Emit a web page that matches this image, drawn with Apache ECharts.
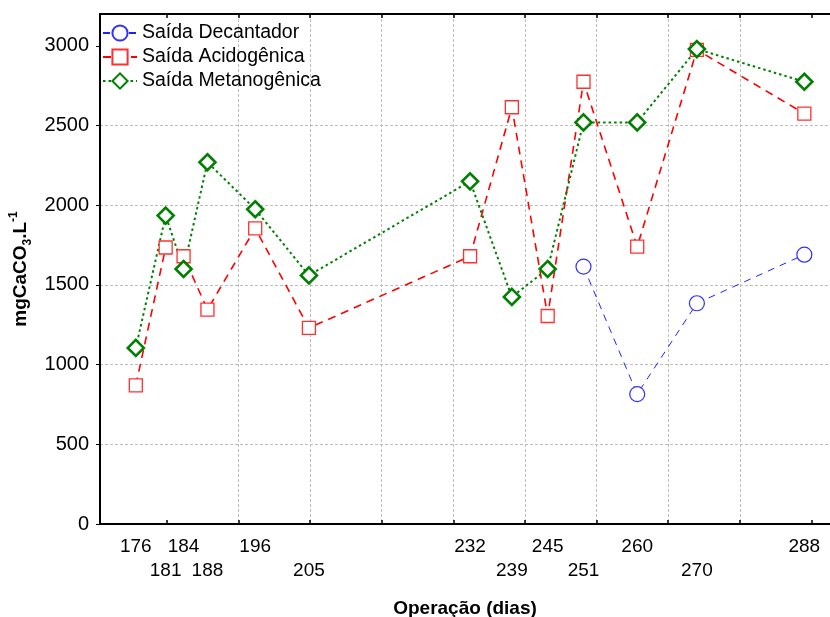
<!DOCTYPE html>
<html>
<head>
<meta charset="utf-8">
<title>Alcalinidade</title>
<script src="https://cdn.jsdelivr.net/npm/echarts@6/dist/echarts.min.js"></script>
<style>
    html, body { margin: 0; padding: 0; background: #fff; }
    #chart { width: 830px; height: 617px; }
</style>
</head>
<body>
<div id="chart"></div>
<script>
// dias de operacao
const dias = [176, 181, 184, 188, 196, 205, 232, 239, 245, 251, 260, 270, 288];

// mgCaCO3/L por ponto de coleta (null = sem medida)
const decantador = [null, null, null, null, null, null, null, null, null, 1615, 815, 1385, 1690];
const acidogenica = [870, 1735, 1680, 1345, 1855, 1230, 1680, 2615, 1305, 2775, 1740, 2975, 2575];
const metanogenica = [1105, 1935, 1600, 2270, 1975, 1560, 2150, 1425, 1600, 2520, 2520, 2980, 2775];

// rotulos do eixo x em duas linhas
const rotulosCima = [176, 184, 196, 232, 245, 260, 288];
const rotulosBaixo = [181, 188, 205, 239, 251, 270];

// ticks do eixo y
const ticksY = [0, 500, 1000, 1500, 2000, 2500, 3000];

// linhas verticais da grade (dias a partir do inicio da grade)
const gradeX = [12, 24, 36, 48, 60, 72, 84, 96, 108, 120];

const nomes = ['Saída Decantador', 'Saída Acidogênica', 'Saída Metanogênica'];

document.addEventListener("DOMContentLoaded", function () {

    let el = document.getElementById('chart');
    let chart = echarts.init(el, null, { renderer: 'canvas' });

    const fonte = 'Liberation Sans, Arial, sans-serif';
    const xMin = 170, xMax = 292.3;
    // grade das linhas verticais: comeca no dia 169.2, passo de 12 dias
    const gMin = 169.2;

    function pares(vals) {
        return dias.map((d, i) => [d, vals[i]]).filter(p => p[1] !== null);
    }

    let eixoX = {
        type: 'value', gridIndex: 0, min: xMin, max: xMax,
        splitLine: { show: false },
        axisTick: { show: false },
        axisLine: { show: false },
        axisLabel: { show: false }
    };

    let tickGrade = { show: true, inside: true, length: 4, customValues: gradeX, lineStyle: { color: '#000', width: 1.5 } };

    chart.setOption({
        animation: false,
        textStyle: { fontFamily: fonte },
        grid: [
            { left: 100, right: 0, top: 14, bottom: 93, containLabel: false, outerBoundsMode: 'none' },
            {
                left: 100 - (xMin - gMin) * 730 / (xMax - xMin), right: 0, top: 14, bottom: 93,
                containLabel: false, outerBoundsMode: 'none'
            }
        ],
        legend: {
            orient: 'vertical',
            left: 97,
            top: 18,
            itemWidth: 34,
            itemHeight: 19,
            itemGap: 4,
            data: nomes,
            textStyle: { fontSize: 19.5, color: '#000', fontFamily: fonte }
        },
        xAxis: [
            // eixo dos dados, linha de baixo + rotulos de cima
            Object.assign({}, eixoX, {
                position: 'bottom',
                axisLine: { show: true, lineStyle: { color: '#000', width: 2 } },
                axisLabel: {
                    show: true, customValues: rotulosCima, margin: 13,
                    fontSize: 19, color: '#000', fontFamily: fonte
                },
                name: 'Operação (dias)',
                nameLocation: 'middle',
                nameGap: 75,
                nameTextStyle: { fontSize: 19, fontWeight: 'bold', color: '#000', fontFamily: fonte }
            }),
            // segunda linha de rotulos
            Object.assign({}, eixoX, {
                position: 'bottom',
                axisLabel: {
                    show: true, customValues: rotulosBaixo, margin: 37,
                    fontSize: 19, color: '#000', fontFamily: fonte
                }
            }),
            // moldura de cima
            Object.assign({}, eixoX, {
                position: 'top',
                axisLine: { show: true, lineStyle: { color: '#000', width: 2 } }
            }),
            // grade vertical + ticks internos
            {
                type: 'value', gridIndex: 1, position: 'bottom',
                min: 0, max: xMax - gMin, interval: 12,
                axisLine: { show: false },
                axisLabel: { show: false },
                axisTick: tickGrade,
                splitLine: {
                    show: true, showMinLine: false, showMaxLine: false,
                    lineStyle: { color: '#bdbdbd', type: [3, 2], width: 1 }
                }
            },
            {
                type: 'value', gridIndex: 1, position: 'top',
                min: 0, max: xMax - gMin, interval: 12,
                axisLine: { show: false },
                axisLabel: { show: false },
                axisTick: tickGrade,
                splitLine: { show: false }
            }
        ],
        yAxis: [
            {
                type: 'value', gridIndex: 0,
                min: 0, max: 3200, interval: 500,
                axisLine: { show: true, lineStyle: { color: '#000', width: 2 } },
                axisTick: { show: true, length: 4, customValues: ticksY, lineStyle: { color: '#000' } },
                axisLabel: {
                    fontSize: 20, color: '#000', margin: 11, fontFamily: fonte,
                    customValues: ticksY,
                    formatter: v => String(v)
                },
                splitLine: {
                    show: true, showMaxLine: false, showMinLine: false,
                    lineStyle: { color: '#bdbdbd', type: [3, 2], width: 1 }
                },
                name: '{a|mgCaCO}{sub|3}{a|.L}{sup|-1}',
                nameLocation: 'middle',
                nameGap: 62,
                nameTextStyle: {
                    color: '#000',
                    rich: {
                        a: { fontSize: 19, fontWeight: 'bold', fontFamily: fonte, color: '#000', lineHeight: 26 },
                        sub: { fontSize: 12, fontWeight: 'bold', fontFamily: fonte, color: '#000', verticalAlign: 'bottom', lineHeight: 26, padding: [8, 0, 0, 0] },
                        sup: { fontSize: 12, fontWeight: 'bold', fontFamily: fonte, color: '#000', verticalAlign: 'top', lineHeight: 26, padding: [0, 0, 10, 0] }
                    }
                }
            },
            { type: 'value', gridIndex: 1, min: 0, max: 3200, show: false, splitLine: { show: false } }
        ],
        series: [
            {
                name: nomes[0],
                type: 'line',
                xAxisIndex: 0, yAxisIndex: 0,
                data: pares(decantador),
                symbol: 'circle',
                symbolSize: 15,
                lineStyle: { color: '#2020ff', width: 1, type: [7, 6] },
                itemStyle: { color: '#fff', borderColor: '#3030ff', borderWidth: 1.2 }
            },
            {
                name: nomes[1],
                type: 'line',
                xAxisIndex: 0, yAxisIndex: 0,
                data: pares(acidogenica),
                symbol: 'rect',
                symbolSize: 13,
                lineStyle: { color: '#ff0000', width: 1.6, type: [8, 6] },
                itemStyle: { color: '#fff', borderColor: '#ff3030', borderWidth: 1.3 }
            },
            {
                name: nomes[2],
                type: 'line',
                xAxisIndex: 0, yAxisIndex: 0,
                data: pares(metanogenica),
                symbol: 'diamond',
                symbolSize: 16,
                lineStyle: { color: '#008000', width: 2, type: [2.5, 3] },
                itemStyle: { color: '#fff', borderColor: '#008000', borderWidth: 2.6 }
            }
        ]
    });

});
</script>
</body>
</html>
